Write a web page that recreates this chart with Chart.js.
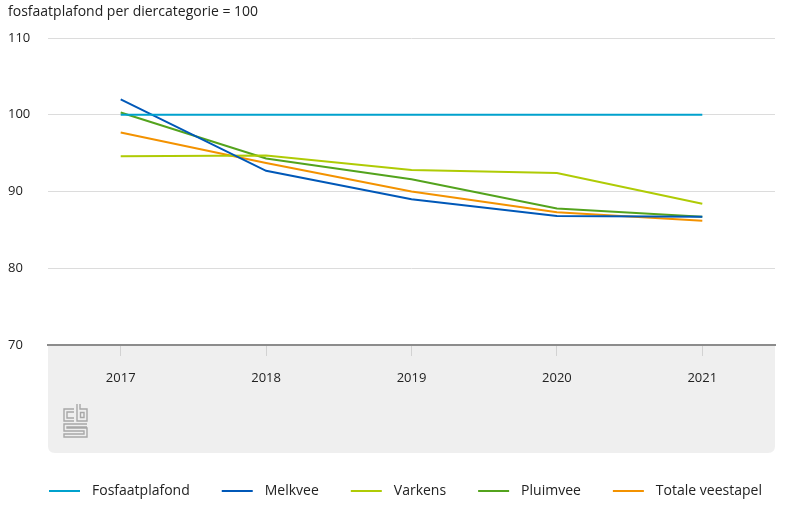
<!DOCTYPE html>
<html>
<head>
<meta charset="utf-8">
<script src="https://cdn.jsdelivr.net/npm/chart.js@4.4.1/dist/chart.umd.min.js"></script>
<style>
  html, body { margin: 0; padding: 0; background: #fff; }
  #wrap { width: 789px; height: 515px; }
</style>
</head>
<body>
<div id="wrap"><canvas id="chart"></canvas></div>
<script>
// ---------------- DATA ----------------
const years = ['2017', '2018', '2019', '2020', '2021'];
const fosfaatplafond = [100, 100, 100, 100, 100];
const melkvee = [102.0, 92.7, 89.0, 86.8, 86.7];
const varkens = [94.6, 94.7, 92.8, 92.4, 88.4];
const pluimvee = [100.3, 94.3, 91.6, 87.8, 86.7];
const totaleVeestapel = [97.7, 93.7, 90.0, 87.3, 86.2];
const yTicks = [70, 80, 90, 100, 110];

const FONT = "'Open Sans', 'Noto Sans', Arial, sans-serif";
const TEXT = '#222222';

// ---------------- PLUGINS ----------------
// gray band under the x axis + cbs logo
const bandPlugin = {
    id: 'band',
    beforeDraw(chart) {
        const { ctx, chartArea } = chart;
        const x = chart.scales.x;
        const left = chartArea.left, right = chartArea.right;
        const top = chartArea.bottom, bottom = x.bottom;
        const r = 7;
        ctx.save();
        ctx.fillStyle = '#efefef';
        ctx.beginPath();
        ctx.moveTo(left, top);
        ctx.lineTo(right, top);
        ctx.lineTo(right, bottom - r);
        ctx.quadraticCurveTo(right, bottom, right - r, bottom);
        ctx.lineTo(left + r, bottom);
        ctx.quadraticCurveTo(left, bottom, left, bottom - r);
        ctx.closePath();
        ctx.fill();

        // logo
        const lx = left + 16, ly = top + 59;
        ctx.strokeStyle = '#a8a8a8';
        ctx.lineWidth = 1.4;
        ctx.beginPath();
        // c
        ctx.moveTo(lx + 10, ly + 5); ctx.lineTo(lx, ly + 5); ctx.lineTo(lx, ly + 17); ctx.lineTo(lx + 10, ly + 17);
        ctx.moveTo(lx + 10, ly + 8); ctx.lineTo(lx + 3, ly + 8); ctx.lineTo(lx + 3, ly + 14); ctx.lineTo(lx + 10, ly + 14);
        // b
        ctx.moveTo(lx + 13, ly); ctx.lineTo(lx + 13, ly + 17); ctx.lineTo(lx + 23, ly + 17); ctx.lineTo(lx + 23, ly + 5); ctx.lineTo(lx + 16, ly + 5); ctx.lineTo(lx + 16, ly);
        ctx.rect(lx + 16.5, ly + 8.5, 3.5, 5);
        // s
        ctx.moveTo(lx + 23, ly + 20); ctx.lineTo(lx, ly + 20); ctx.lineTo(lx, ly + 27); ctx.lineTo(lx + 20, ly + 27); ctx.lineTo(lx + 20, ly + 30); ctx.lineTo(lx, ly + 30); ctx.lineTo(lx, ly + 33); ctx.lineTo(lx + 23, ly + 33); ctx.lineTo(lx + 23, ly + 24); ctx.lineTo(lx + 3, ly + 24); ctx.lineTo(lx + 3, ly + 23); ctx.lineTo(lx + 23, ly + 23);
        ctx.stroke();
        ctx.restore();
    }
};

// legend drawn below the band
const legendPlugin = {
    id: 'lineLegend',
    afterDraw(chart) {
        const { ctx, chartArea } = chart;
        const y = 491;
        const swatch = 31, gap = 12, itemGap = 32;
        ctx.save();
        ctx.font = '14px ' + FONT;
        ctx.textBaseline = 'middle';
        let x = chartArea.left + 1;
        chart.data.datasets.forEach(ds => {
            ctx.strokeStyle = ds.borderColor;
            ctx.lineWidth = 2;
            ctx.beginPath();
            ctx.moveTo(x, y);
            ctx.lineTo(x + swatch, y);
            ctx.stroke();
            x += swatch + gap;
            ctx.fillStyle = TEXT;
            ctx.fillText(ds.label, x, y);
            x += ctx.measureText(ds.label).width + itemGap;
        });
        ctx.restore();
    }
};

// ---------------- CHART ----------------
function line(label, data, color) {
    return { label, data, borderColor: color, backgroundColor: color, borderWidth: 2, pointRadius: 0, tension: 0, fill: false };
}

new Chart(document.getElementById('chart'), {
    type: 'line',
    data: {
        labels: years,
        datasets: [
            line('Fosfaatplafond', fosfaatplafond, '#00a1cd'),
            line('Melkvee', melkvee, '#0058b8'),
            line('Varkens', varkens, '#afcb05'),
            line('Pluimvee', pluimvee, '#53a31d'),
            line('Totale veestapel', totaleVeestapel, '#f39200')
        ]
    },
    options: {
        responsive: true,
        maintainAspectRatio: false,
        animation: false,
        layout: { padding: { left: 8, right: 14, top: 0, bottom: 62 } },
        plugins: {
            legend: { display: false },
            tooltip: { enabled: false },
            title: {
                display: true,
                text: 'fosfaatplafond per diercategorie = 100',
                align: 'start',
                color: TEXT,
                font: { family: FONT, size: 14, weight: 'normal', lineHeight: 1.2 },
                padding: { top: 4, bottom: 17.2 }
            }
        },
        scales: {
            x: {
                offset: true,
                grid: { drawOnChartArea: false, tickLength: 11, color: '#d2d2d2', offset: false },
                border: { display: true, color: '#8c8c8c', width: 2 },
                ticks: { color: TEXT, font: { family: FONT, size: 13 }, padding: 14, maxRotation: 0 },
                afterFit(scale) { scale.height = 108; }
            },
            y: {
                min: 70,
                max: 110,
                afterBuildTicks(scale) { scale.ticks = yTicks.map(v => ({ value: v })); },
                grid: { color: '#dcdcdc', lineWidth: 1, drawTicks: false },
                border: { display: false },
                ticks: { color: TEXT, font: { family: FONT, size: 13 }, crossAlign: 'far', padding: 0 },
                afterFit(scale) { scale.width = 40; }
            }
        }
    },
    plugins: [bandPlugin, legendPlugin]
});
</script>
</body>
</html>
